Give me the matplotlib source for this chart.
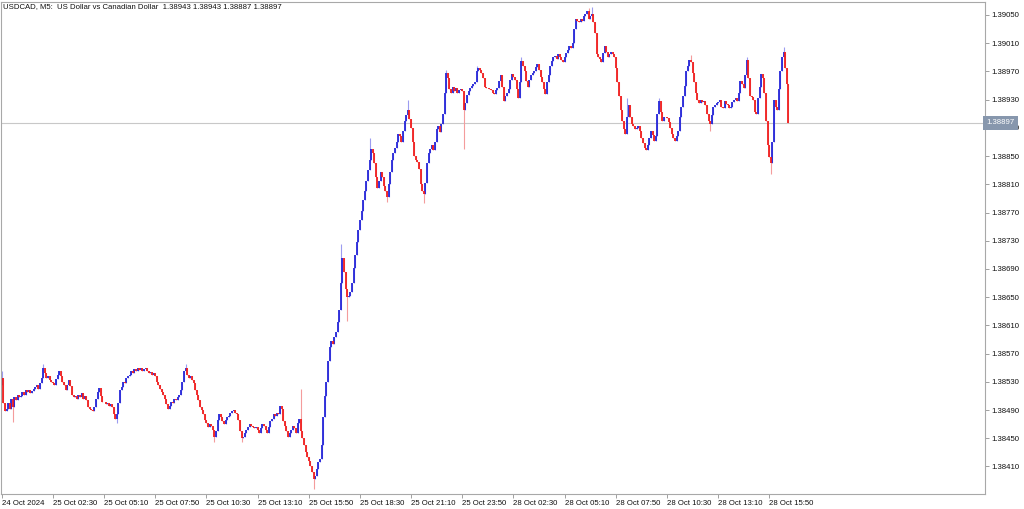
import matplotlib.pyplot as plt
import matplotlib.transforms as mtransforms
import numpy as np

# USDCAD M5 candles, prices stored as points above 1.38400 (1 point = 0.00001)
base = 1.38400
first_open_pts = 125
close_pts = [
    135, 100, 88, 92, 100, 92, 105, 95, 108, 104, 112, 108, 110, 115, 112, 118,
    115, 118, 114, 117, 120, 122, 125, 120, 128, 135, 149, 142, 136, 138, 132, 130,
    128, 126, 134, 140, 145, 138, 130, 125, 119, 126, 133, 124, 112, 108, 110, 105,
    112, 109, 114, 106, 110, 104, 95, 92, 90, 88, 94, 105, 115, 121, 110, 102,
    102, 98, 100, 96, 99, 94, 85, 78, 84, 100, 118, 123, 130, 128, 136, 138,
    140, 145, 143, 148, 146, 150, 147, 149, 145, 148, 150, 146, 142, 144, 140, 142,
    138, 130, 126, 120, 116, 112, 105, 98, 92, 96, 102, 100, 106, 104, 109, 112,
    118, 130, 145, 150, 140, 136, 138, 132, 128, 118, 112, 104, 95, 90, 84, 76,
    72, 66, 70, 68, 62, 52, 60, 76, 84, 80, 74, 70, 76, 80, 82, 86,
    88, 90, 86, 84, 76, 60, 50, 52, 58, 62, 66, 70, 68, 66, 64, 66,
    62, 58, 64, 70, 68, 62, 58, 66, 74, 78, 84, 82, 86, 84, 96, 92,
    74, 68, 60, 52, 58, 62, 68, 64, 58, 72, 78, 60, 50, 40, 30, 24,
    18, 10, 2, -8, -4, 6, 16, 20, 40, 80, 110, 130, 160, 180, 188, 184,
    194, 200, 215, 232, 270, 305, 285, 262, 250, 252, 258, 270, 292, 310, 328, 345,
    360, 372, 388, 400, 415, 430, 445, 460, 455, 440, 420, 405, 415, 428, 420, 408,
    400, 392, 410, 428, 445, 455, 462, 470, 482, 478, 470, 485, 500, 508, 515, 502,
    490, 470, 450, 445, 442, 432, 410, 400, 396, 412, 440, 455, 460, 465, 458, 470,
    488, 492, 484, 495, 510, 540, 568, 560, 545, 540, 548, 542, 546, 540, 544, 545,
    542, 515, 525, 537, 542, 546, 550, 552, 555, 570, 575, 572, 568, 560, 548, 546,
    547, 545, 543, 540, 538, 544, 546, 556, 565, 548, 528, 535, 540, 545, 558, 566,
    562, 558, 545, 532, 555, 585, 578, 570, 556, 548, 558, 565, 568, 570, 576, 580,
    572, 562, 555, 545, 538, 555, 565, 578, 585, 590, 592, 588, 594, 590, 586, 584,
    590, 596, 600, 606, 603, 610, 630, 645, 642, 640, 644, 641, 648, 652, 655, 645,
    648, 652, 640, 625, 595, 590, 588, 584, 596, 606, 598, 590, 595, 598, 594, 590,
    575, 555, 535, 515, 500, 488, 482, 505, 522, 505, 496, 492, 488, 490, 492, 486,
    475, 468, 462, 458, 466, 476, 486, 480, 472, 478, 510, 528, 512, 500, 505, 506,
    504, 498, 490, 482, 476, 472, 478, 486, 505, 520, 535, 550, 570, 578, 586, 584,
    568, 555, 540, 530, 525, 530, 526, 528, 522, 510, 500, 496, 508, 519, 522, 525,
    526, 530, 520, 518, 528, 524, 522, 518, 520, 526, 530, 532, 528, 540, 556, 552,
    546, 565, 586, 560, 535, 534, 530, 512, 510, 532, 548, 566, 560, 540, 500, 465,
    448, 440, 470, 530, 520, 515, 545, 570, 590, 598, 575, 552, 497,
]

# wicks that stick out visibly (bar index -> points)
high_bars = [0, 26, 115, 187, 212, 230, 254, 278, 297, 325, 367, 369, 391, 411, 431, 466, 489]
high_pts = [145, 155, 155, 120, 325, 476, 529, 572, 578, 590, 660, 662, 532, 533, 593, 590, 604]
low_bars = [7, 72, 133, 150, 195, 216, 241, 264, 289, 443, 481]
low_pts = [73, 71, 45, 45, -22, 216, 385, 384, 460, 486, 425]

last_price = 1.38897
y_ticks = [1.38410 + 0.0004 * k for k in range(17)]
x_tick_bars = list(range(0, 481, 32))
x_tick_labels = ['24 Oct 2024', '25 Oct 02:30', '25 Oct 05:10', '25 Oct 07:50', '25 Oct 10:30',
                 '25 Oct 13:10', '25 Oct 15:50', '25 Oct 18:30', '25 Oct 21:10', '25 Oct 23:50',
                 '28 Oct 02:30', '28 Oct 05:10', '28 Oct 07:50', '28 Oct 10:30', '28 Oct 13:10',
                 '28 Oct 15:50']
title = 'USDCAD, M5:  US Dollar vs Canadian Dollar  1.38943 1.38943 1.38887 1.38897'

closes = base + np.array(close_pts) / 1e5
opens = np.r_[base + first_open_pts / 1e5, closes[:-1]]
highs = np.maximum(opens, closes)
lows = np.minimum(opens, closes)
for b, v in zip(high_bars, high_pts):
    highs[b] = max(highs[b], base + v / 1e5)
for b, v in zip(low_bars, low_pts):
    lows[b] = min(lows[b], base + v / 1e5)
x = np.arange(len(closes))
up = closes >= opens

plt.rcParams['font.family'] = ['Liberation Sans', 'DejaVu Sans']
fig = plt.figure(figsize=(10.24, 5.09), dpi=100)
ax = fig.add_axes([1 / 1024, 15 / 509, 984 / 1024, 492 / 509])

ax.axhline(last_price, color='#c8c8c8', lw=0.8, zorder=0)
ax.vlines(x[up], lows[up], highs[up], color='#9c9cf0', lw=0.8)
ax.vlines(x[~up], lows[~up], highs[~up], color='#f49c9c', lw=0.8)
ax.vlines(x[up], opens[up], closes[up], color='#2626d8', lw=1.3)
ax.vlines(x[~up], opens[~up], closes[~up], color='#f01e1e', lw=1.3)

ax.set_xlim(-0.44, 614.9)
ax.set_ylim(base - 29 / 1e5, base + 668.4 / 1e5)

ax.yaxis.tick_right()
ax.set_yticks(y_ticks)
ax.set_yticklabels(['%.5f' % v for v in y_ticks])
ax.set_xticks(x_tick_bars)
ax.set_xticklabels(x_tick_labels, ha='left')
ax.tick_params(axis='both', length=3, width=0.6, color='#909090', labelsize=5.6,
               labelcolor='#101010', pad=1.5)

for s in ax.spines.values():
    s.set_color('#a8a8a8')
    s.set_linewidth(0.8)

trans = mtransforms.blended_transform_factory(ax.transAxes, ax.transData)
ax.text(1.0015, last_price, '%.5f' % last_price, transform=trans, fontsize=5.6,
        color='white', va='center', ha='left', zorder=5,
        bbox=dict(boxstyle='square,pad=0.4', fc='#8797ad', ec='none'))

fig.text(3 / 1024, 1 - 6.5 / 509, title, fontsize=5.6, color='#101010', va='center', ha='left')

fig.savefig('out.png', dpi=100)
